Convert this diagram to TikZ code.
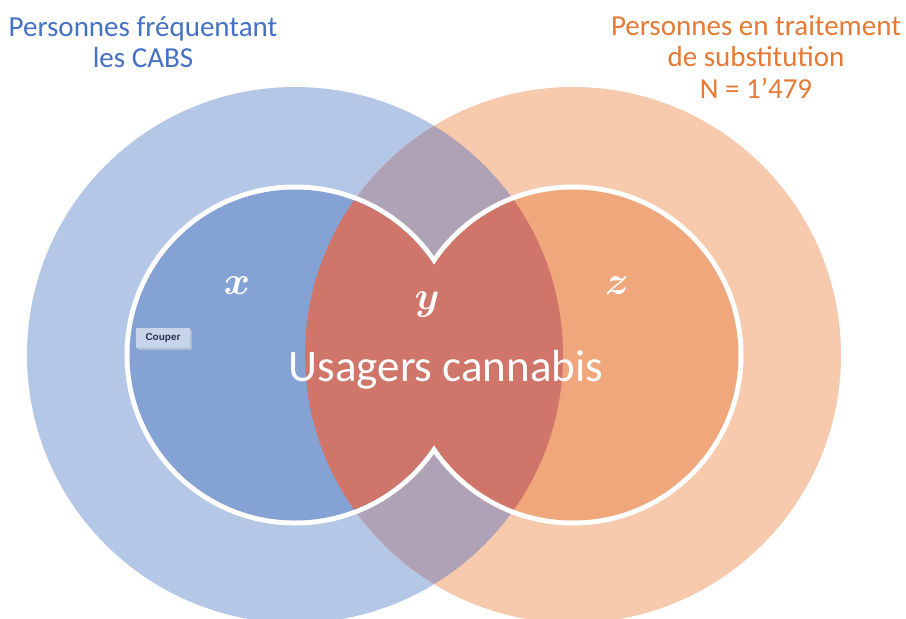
\documentclass[tikz,border=0pt]{standalone}
\usepackage{fontspec}
\usepackage{graphicx}
\usepackage{bm}
\setmainfont{Carlito}
\newfontfamily\uifont{Liberation Sans}
\definecolor{outerblue}{RGB}{180,199,231}
\definecolor{innerblue}{RGB}{132,162,212}
\definecolor{outerorange}{RGB}{247,201,173}
\definecolor{innerorange}{RGB}{240,167,124}
\definecolor{overlapred}{RGB}{207,117,105}
\definecolor{overlappurple}{RGB}{176,162,182}
\definecolor{titleblue}{RGB}{68,114,196}
\definecolor{titleorange}{RGB}{230,122,52}
\definecolor{couperbg}{RGB}{200,212,234}
\definecolor{couperfg}{RGB}{40,50,80}
\newcommand{\setvar}[1]{\scalebox{1.6}{$\bm{#1}$}}
\begin{document}
\begin{tikzpicture}[x=1pt,y=-1pt,
  titleL/.style={text=titleblue,font=\fontsize{29}{29}\selectfont,anchor=base,inner sep=0pt},
  titleR/.style={text=titleorange,font=\fontsize{29}{29}\selectfont,anchor=base,inner sep=0pt},
  setlabel/.style={text=white,font=\Huge,inner sep=0pt},
  bigtext/.style={text=white,font=\fontsize{45}{45}\selectfont,anchor=base,inner sep=0pt},
  outerC/.style={radius=268pt},
  innerC/.style={radius=165.5pt}]
\useasboundingbox (0,0) rectangle (906,619);
\fill[white] (0,0) rectangle (906,619);
% outer circles
\fill[outerblue] (295,355) circle [outerC];
\fill[outerorange] (573,355) circle [outerC];
\begin{scope}
  \clip (295,355) circle [outerC];
  \fill[overlappurple] (573,355) circle [outerC];
\end{scope}
% white outline of inner union
\draw[white,line width=10pt] (295,355) circle [innerC];
\draw[white,line width=10pt] (573,355) circle [innerC];
% inner fills
\fill[innerblue] (295,355) circle [innerC];
\fill[innerorange] (573,355) circle [innerC];
\begin{scope}
  \clip (295,355) circle [innerC];
  \fill[overlapred] (573,355) circle [outerC];
\end{scope}
\begin{scope}
  \clip (573,355) circle [innerC];
  \fill[overlapred] (295,355) circle [outerC];
\end{scope}
% titles
\node[titleL] (tl1) at (143,36) {Personnes fréquentant};
\node[titleL] (tl2) at (143,67) {les CABS};
\node[titleR] (tr1) at (756,35) {Personnes en traitement};
\node[titleR] (tr2) at (756,66) {de substitution};
\node[titleR] (tr3) at (756,98) {N = 1’479};
% labels
\node[setlabel] (lx) at (237,286) {\setvar{x}};
\node[setlabel] (ly) at (427,305) {\setvar{y}};
\node[setlabel] (lz) at (617,286) {\setvar{z}};
\node[bigtext] (use) at (446,381) {Usagers cannabis};
% tooltip
\fill[black!15,opacity=0.5] (137.5,329.5) rectangle (191.5,349.5);
\node[fill=couperbg,text=couperfg,font=\uifont\bfseries\fontsize{10}{10}\selectfont,
  minimum width=54pt,minimum height=20pt,inner sep=0pt] (cut) at (163,338) {Couper};
\end{tikzpicture}
\end{document}
